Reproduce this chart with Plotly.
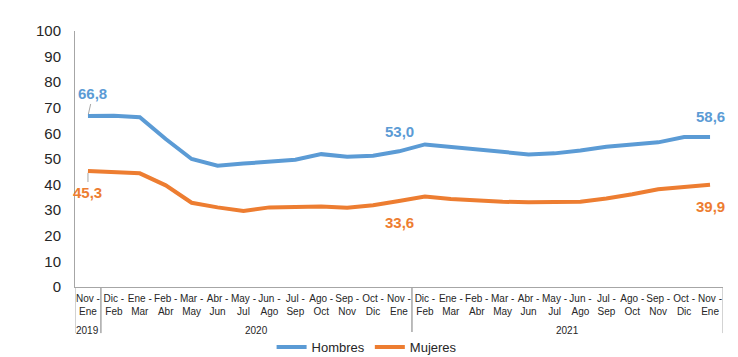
import plotly.graph_objects as go

years = ["2019"] + ["2020"] * 12 + ["2021"] * 12
periods = ["Nov -<br>Ene", "Dic -<br>Feb", "Ene -<br>Mar", "Feb -<br>Abr", "Mar -<br>May",
           "Abr -<br>Jun", "May -<br>Jul", "Jun -<br>Ago", "Jul -<br>Sep", "Ago -<br>Oct",
           "Sep -<br>Nov", "Oct -<br>Dic", "Nov -<br>Ene",
           "Dic -<br>Feb", "Ene -<br>Mar", "Feb -<br>Abr", "Mar -<br>May", "Abr -<br>Jun",
           "May -<br>Jul", "Jun -<br>Ago", "Jul -<br>Sep", "Ago -<br>Oct", "Sep -<br>Nov",
           "Oct -<br>Dic", "Nov -<br>Ene"]

hombres = [66.8, 66.9, 66.3, 57.8, 50.0, 47.4, 48.2, 48.9, 49.7, 51.9, 50.9, 51.3, 53.0,
           55.7, 54.8, 53.9, 52.9, 51.8, 52.2, 53.3, 54.8, 55.7, 56.5, 58.6, 58.6]
mujeres = [45.3, 44.8, 44.4, 39.7, 32.9, 31.1, 29.7, 31.1, 31.4, 31.4, 31.0, 31.9, 33.6,
           35.3, 34.4, 33.7, 33.3, 33.1, 33.3, 33.3, 34.6, 36.2, 38.2, 38.9, 39.9]

blue = "#5B9BD5"
orange = "#ED7D31"
grey = "#A6A6A6"
FONT = "Liberation Sans, Arial"

xs = list(range(len(periods)))

fig = go.Figure()
fig.add_trace(go.Scatter(x=xs, y=hombres, mode="lines", name="Hombres",
                         line=dict(color=blue, width=4)))
fig.add_trace(go.Scatter(x=xs, y=mujeres, mode="lines", name="Mujeres",
                         line=dict(color=orange, width=4)))

def fmt(v):
    return f"{v:.1f}".replace(".", ",")

ann = []
ann.append(dict(x=0, y=hombres[0], text=f"<b>{fmt(hombres[0])}</b>", showarrow=True,
                arrowhead=0, arrowcolor=grey, arrowwidth=1, ax=5, ay=-22, standoff=2,
                font=dict(family=FONT, size=15, color=blue)))
ann.append(dict(x=0, y=mujeres[0], text=f"<b>{fmt(mujeres[0])}</b>", showarrow=True,
                arrowhead=0, arrowcolor=grey, arrowwidth=1, ax=0, ay=21, standoff=2,
                font=dict(family=FONT, size=15, color=orange)))
for i in (12, 24):
    ann.append(dict(x=i, y=hombres[i], text=f"<b>{fmt(hombres[i])}</b>", showarrow=False,
                    yshift=20, font=dict(family=FONT, size=15, color=blue)))
    ann.append(dict(x=i, y=mujeres[i], text=f"<b>{fmt(mujeres[i])}</b>", showarrow=False,
                    yshift=-22, font=dict(family=FONT, size=15, color=orange)))

# year group labels and dividers
shapes = []
groups = []
for i, y in enumerate(years):
    if not groups or groups[-1][0] != y:
        groups.append([y, i, i])
    else:
        groups[-1][2] = i
for y, a, b in groups:
    ann.append(dict(x=(a + b) / 2, y=-0.168, xref="x", yref="paper", text=y,
                    showarrow=False, yanchor="middle",
                    font=dict(family=FONT, size=10, color="#262626")))
    for edge in (a - 0.5, b + 0.5):
        shapes.append(dict(type="line", xref="x", yref="paper", x0=edge, x1=edge,
                           y0=0, y1=-0.18, line=dict(color=grey, width=1)))

fig.update_layout(
    width=738, height=357,
    margin=dict(l=75, r=15, t=31, b=70, autoexpand=False),
    paper_bgcolor="white", plot_bgcolor="white",
    font=dict(family=FONT, color="#262626"),
    showlegend=True,
    legend=dict(orientation="h", x=0.45, xanchor="center", yref="container",
                y=0.028, yanchor="middle",
                font=dict(size=13, color="#262626"), itemwidth=30, tracegroupgap=0,
                borderwidth=0),
    annotations=ann,
    shapes=shapes,
)
fig.update_xaxes(
    range=[-0.5, len(periods) - 0.5], tickmode="array", tickvals=xs, ticktext=periods,
    tickangle=0, showline=True, linecolor=grey, linewidth=1, automargin=False,
    showgrid=False, ticks="", tickfont=dict(size=10, color="#262626"), zeroline=False,
    ticklabelstandoff=2,
)
fig.update_yaxes(
    range=[0, 100], dtick=10, showgrid=False, showline=True, linecolor=grey,
    linewidth=1, ticks="", tickfont=dict(size=15, color="#262626"), zeroline=False,
    automargin=False, ticklabelstandoff=10,
)

fig.write_html("out.html", config={"displayModeBar": False},
               post_script="document.body.style.margin='0';")
